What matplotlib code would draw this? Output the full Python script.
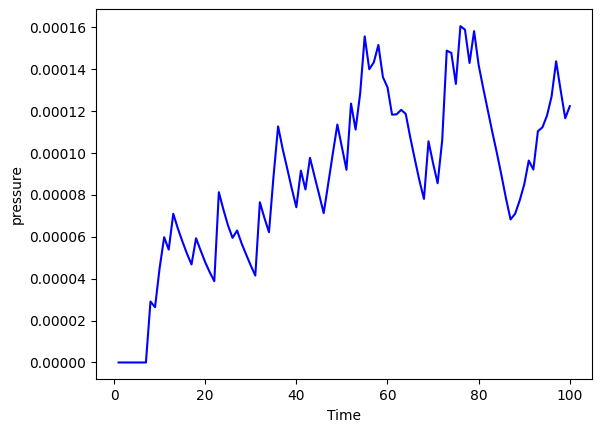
import numpy as np
import matplotlib
matplotlib.use("Agg")
from matplotlib import pyplot as plt

time = np.arange(1, 101)
pressure = [
    0, 0, 0, 0, 0, 0, 0, 2.91e-5, 2.64e-5, 4.5e-5,
    5.98e-5, 5.39e-5, 7.1e-5, 6.4e-5, 5.78e-5, 5.2e-5, 4.68e-5, 5.93e-5, 5.35e-5, 4.79e-5,
    4.31e-5, 3.88e-5, 8.13e-5, 7.3e-5, 6.55e-5, 5.95e-5, 6.3e-5, 5.68e-5, 5.15e-5, 4.63e-5,
    4.15e-5, 7.65e-5, 6.9e-5, 6.22e-5, 8.9e-5, 1.127e-4, 1.02e-4, 9.26e-5, 8.3e-5, 7.41e-5,
    9.16e-5, 8.26e-5, 9.77e-5, 8.88e-5, 8.02e-5, 7.13e-5, 8.54e-5, 9.97e-5, 1.136e-4, 1.028e-4,
    9.2e-5, 1.236e-4, 1.112e-4, 1.284e-4, 1.557e-4, 1.40e-4, 1.433e-4, 1.516e-4, 1.362e-4, 1.314e-4,
    1.183e-4, 1.185e-4, 1.206e-4, 1.187e-4, 1.074e-4, 9.7e-5, 8.69e-5, 7.81e-5, 1.056e-4, 9.51e-5,
    8.56e-5, 1.06e-4, 1.489e-4, 1.478e-4, 1.33e-4, 1.606e-4, 1.589e-4, 1.43e-4, 1.582e-4, 1.42e-4,
    1.31e-4, 1.205e-4, 1.1e-4, 1.0e-4, 8.94e-5, 7.83e-5, 6.83e-5, 7.1e-5, 7.73e-5, 8.5e-5,
    9.64e-5, 9.21e-5, 1.104e-4, 1.123e-4, 1.179e-4, 1.27e-4, 1.438e-4, 1.298e-4, 1.166e-4, 1.224e-4,
]

fig = plt.figure(figsize=(6.02, 4.32), dpi=100)
plt.subplots_adjust(left=0.1595, right=0.984, top=0.9785, bottom=0.122)
plt.plot(time, pressure, color="b")
plt.xlabel("Time")
plt.ylabel("pressure")
plt.savefig("out.png", dpi=100)
